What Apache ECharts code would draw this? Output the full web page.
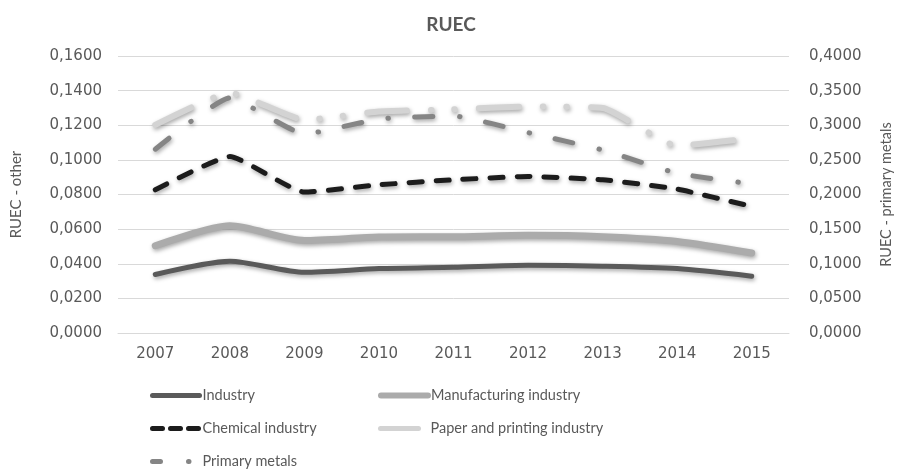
<!DOCTYPE html>
<html>
<head>
<meta charset="utf-8">
<script src="https://cdn.jsdelivr.net/npm/echarts@6/dist/echarts.min.js"></script>
<style>html,body{margin:0;padding:0;background:#fff}#c{width:902px;height:470px}</style>
</head>
<body>
<div id="c"></div>
<script>
const years = ['2007','2008','2009','2010','2011','2012','2013','2014','2015'];
const industry = [0.0338, 0.0415, 0.0351, 0.0372, 0.0380, 0.0391, 0.0386, 0.0372, 0.0328];
const manufacturing = [0.0504, 0.0619, 0.0535, 0.0554, 0.0556, 0.0564, 0.0556, 0.0529, 0.0462];
const chemical = [0.0827, 0.1019, 0.0814, 0.0856, 0.0885, 0.0904, 0.0885, 0.0831, 0.0731];
const paper = [0.1202, 0.1388, 0.1231, 0.1279, 0.1292, 0.1308, 0.1300, 0.1082, 0.1125];
const primaryMetals = [0.2654, 0.3395, 0.2874, 0.3090, 0.3134, 0.2893, 0.2643, 0.2307, 0.2153];

const FONT = 'Lato';
const NUMFONT = 'DejaVu Sans';
const TXT = '#595959';
const fmt = v => v.toFixed(4).replace('.', ',');
const shadow = {shadowColor:'rgba(0,0,0,0.35)', shadowBlur:4, shadowOffsetX:1, shadowOffsetY:2};

function mkSeries(name, data, color, width, type, yIdx, smooth) {
  return {
    name, type:'line', data, yAxisIndex:yIdx, symbol:'none', smooth:smooth,
    lineStyle: Object.assign({color, width, type, cap:'round', join:'round'}, shadow),
    itemStyle:{color},
    emphasis:{disabled:true}, z: 2
  };
}
function mkLegend(name, left, top, width, type) {
  return {
    data:[name], left, top, padding:0, itemWidth:47, itemHeight:14, itemGap:0,
    itemStyle:{opacity:0},
    lineStyle:{width:width, type:type, cap:'round', shadowBlur:0, shadowOffsetX:0, shadowOffsetY:0},
    textStyle:{color:TXT, fontSize:14.5, fontFamily:FONT, padding:[0,0,0,-2]},
    selectedMode:false
  };
}

const chart = echarts.init(document.getElementById('c'), null, {renderer:'canvas'});
chart.setOption({
  animation:false,
  backgroundColor:'#ffffff',
  title:{text:'RUEC', left:'center', top:10,
    textStyle:{color:TXT, fontSize:19, fontWeight:'bold', fontFamily:FONT}},
  grid:{left:118, right:110, top:56, bottom:137, containLabel:false},
  legend:[
    mkLegend('Industry', 150, 388, 5, 'solid'),
    mkLegend('Manufacturing industry', 378, 388, 6, 'solid'),
    mkLegend('Chemical industry', 150, 421, 5, [10, 8]),
    mkLegend('Paper and printing industry', 378, 421, 5, [38, 40]),
    mkLegend('Primary metals', 150, 454, 5, [8, 28, 0.5, 40])
  ],
  xAxis:{
    type:'category', data:years, boundaryGap:true,
    axisLine:{show:true, lineStyle:{color:'#d9d9d9', width:1}},
    axisTick:{show:false},
    axisLabel:{color:TXT, fontSize:15, fontFamily:NUMFONT, margin:14}
  },
  yAxis:[
    {type:'value', min:0, max:0.16, interval:0.02, position:'left',
     name:'RUEC - other', nameLocation:'middle', nameGap:94, nameRotate:90,
     nameTextStyle:{color:TXT, fontSize:15, fontFamily:FONT},
     axisLine:{show:false}, axisTick:{show:false},
     axisLabel:{color:TXT, fontSize:15, fontFamily:NUMFONT, formatter:fmt, margin:16},
     splitLine:{lineStyle:{color:'#d9d9d9', width:1}}},
    {type:'value', min:0, max:0.4, interval:0.05, position:'right',
     name:'RUEC - primary metals', nameLocation:'middle', nameGap:90, nameRotate:90,
     nameTextStyle:{color:TXT, fontSize:14.5, fontFamily:FONT},
     axisLine:{show:false}, axisTick:{show:false},
     axisLabel:{color:TXT, fontSize:15, fontFamily:NUMFONT, formatter:fmt, margin:20},
     splitLine:{show:false}}
  ],
  series:[
    mkSeries('Industry', industry, '#5a5a5a', 5, 'solid', 0, 0.25),
    mkSeries('Manufacturing industry', manufacturing, '#ababab', 7, 'solid', 0, 0.25),
    mkSeries('Chemical industry', chemical, '#1c1c1c', 5, [13, 14], 0, 0.15),
    mkSeries('Paper and printing industry', paper, '#d3d3d3', 6, [40, 24, 0.5, 23, 0.5, 24], 0, 0.15),
    mkSeries('Primary metals', primaryMetals, '#858585', 5, [18, 27, 0.5, 26], 1, 0.15)
  ]
});
</script>
</body>
</html>
